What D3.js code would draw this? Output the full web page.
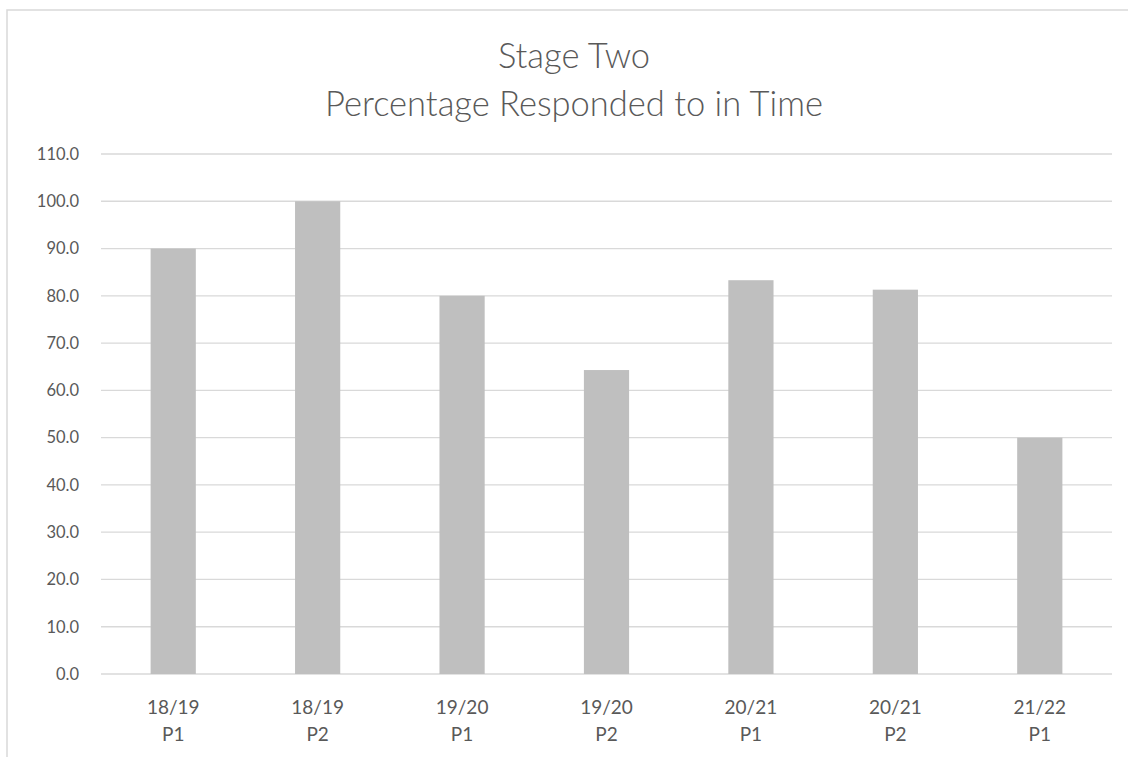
<!DOCTYPE html>
<html>
<head>
<meta charset="utf-8">
<script src="https://cdn.jsdelivr.net/npm/d3@7"></script>
<style>
  body { margin: 0; background: #fff; }
  svg { display: block; font-family: Lato, "Open Sans", sans-serif; }
</style>
</head>
<body>
<svg id="chart" width="1128" height="757"></svg>
<script>
var periods = ["18/19", "18/19", "19/20", "19/20", "20/21", "20/21", "21/22"];
var halves = ["P1", "P2", "P1", "P2", "P1", "P2", "P1"];
var values = [90, 100, 80, 64.3, 83.3, 81.3, 50];
var yTicks = [0, 10, 20, 30, 40, 50, 60, 70, 80, 90, 100, 110];
var titleLines = ["Stage Two", "Percentage Responded to in Time"];

var categories = periods.map(function (p, i) { return p + " " + halves[i]; });

var svg = d3.select("#chart");
var textColor = "#595959";
var gridColor = "#d9d9d9";

// chart area border (runs off right and bottom)
svg.append("rect")
    .attr("x", 7)
    .attr("y", 10)
    .attr("width", 1200)
    .attr("height", 800)
    .attr("fill", "none")
    .attr("stroke", gridColor)
    .attr("stroke-width", 1.5);

var plotLeft = 101, plotRight = 1112, plotTop = 154, plotBottom = 674;

var x = d3.scaleBand()
    .domain(categories)
    .range([plotLeft, plotRight])
    .paddingInner(0.687)
    .paddingOuter(0.3435);

var y = d3.scaleLinear()
    .domain([0, 110])
    .range([plotBottom, plotTop]);

// gridlines
svg.append("g")
    .selectAll("line")
    .data(yTicks)
    .enter()
    .append("line")
    .attr("x1", plotLeft)
    .attr("x2", plotRight)
    .attr("y1", function (d) { return y(d); })
    .attr("y2", function (d) { return y(d); })
    .attr("stroke", gridColor)
    .attr("stroke-width", 1.3);

// y axis labels
var yAxis = d3.axisLeft(y)
    .tickValues(yTicks)
    .tickFormat(d3.format(".1f"))
    .tickSize(0)
    .tickPadding(0);

var yg = svg.append("g")
    .attr("transform", "translate(79,0)")
    .call(yAxis);
yg.select(".domain").remove();
yg.selectAll("text")
    .attr("fill", textColor)
    .style("font-size", "16.5px")
    .style("font-family", "Lato, 'Open Sans', sans-serif");

// bars
svg.append("g")
    .selectAll("rect")
    .data(values)
    .enter()
    .append("rect")
    .attr("x", function (d, i) { return x(categories[i]); })
    .attr("y", function (d) { return y(d); })
    .attr("width", x.bandwidth())
    .attr("height", function (d) { return y(0) - y(d); })
    .attr("fill", "#bfbfbf");

// x labels, two lines
var xl = svg.append("g")
    .selectAll("text")
    .data(categories)
    .enter()
    .append("text")
    .attr("text-anchor", "middle")
    .attr("fill", textColor)
    .style("font-size", "19px");

xl.append("tspan")
    .attr("x", function (d) { return x(d) + x.bandwidth() / 2; })
    .attr("y", 714)
    .text(function (d, i) { return periods[i]; });
xl.append("tspan")
    .attr("x", function (d) { return x(d) + x.bandwidth() / 2; })
    .attr("y", 741)
    .text(function (d, i) { return halves[i]; });

// title
svg.append("g")
    .selectAll("text")
    .data(titleLines)
    .enter()
    .append("text")
    .attr("x", 574)
    .attr("y", function (d, i) { return 68 + i * 48; })
    .attr("text-anchor", "middle")
    .attr("fill", textColor)
    .style("font-size", "34.5px")
    .style("font-weight", 300)
    .text(function (d) { return d; });
</script>
</body>
</html>
